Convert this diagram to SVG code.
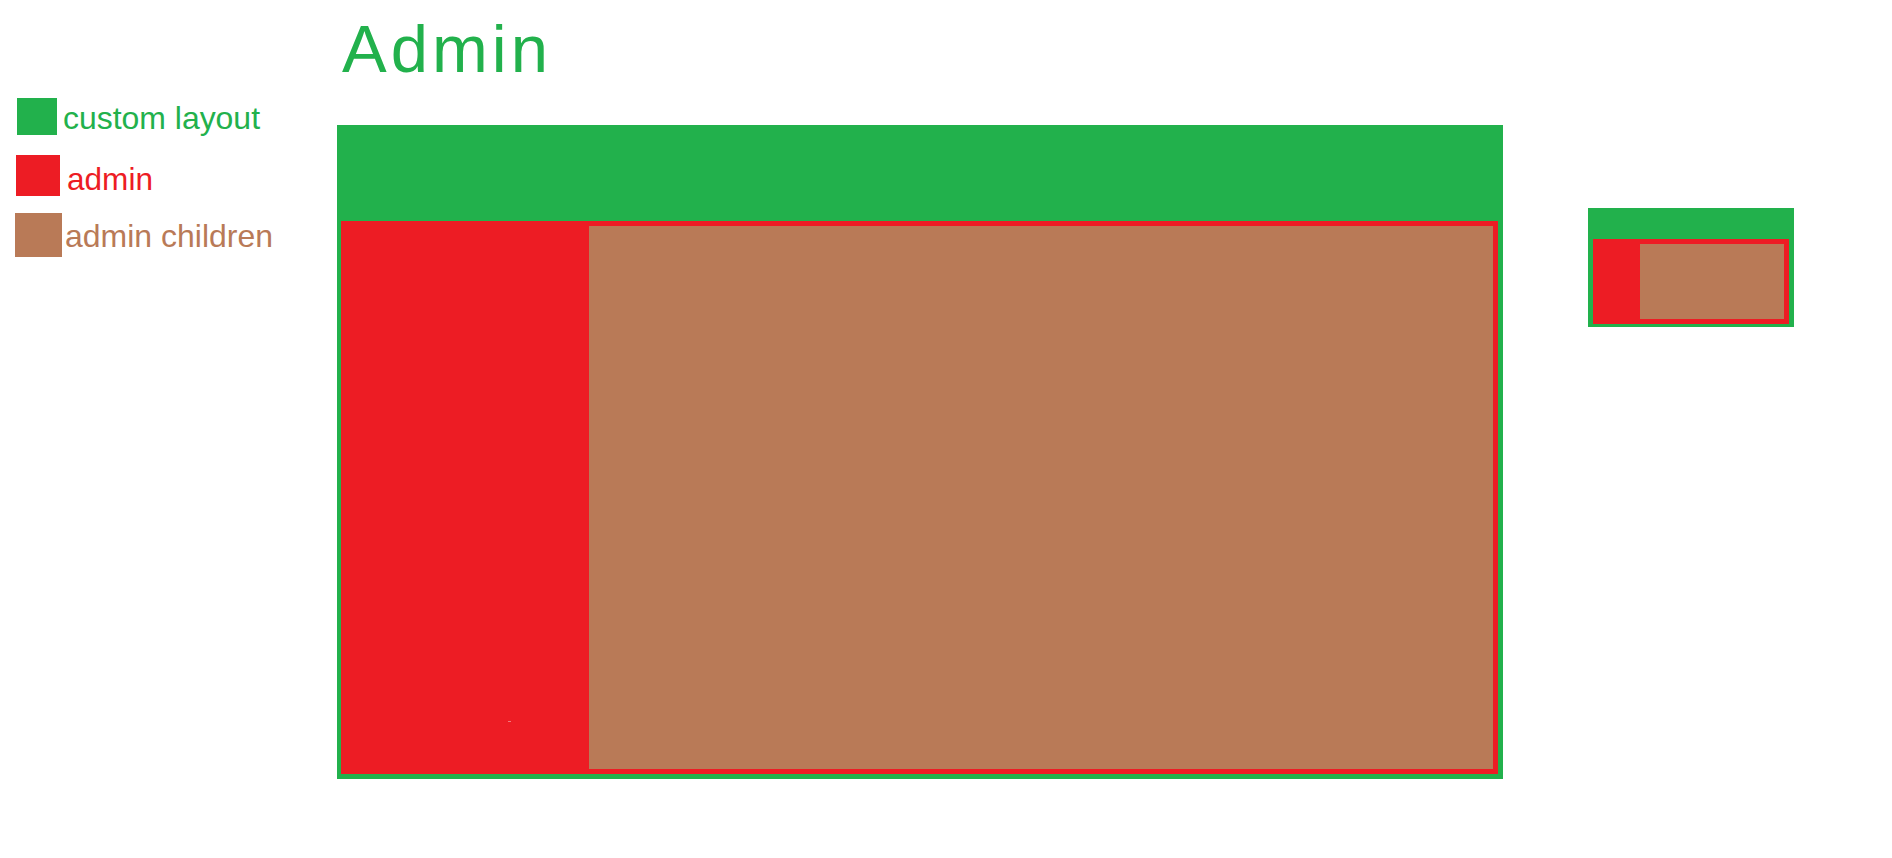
<svg xmlns="http://www.w3.org/2000/svg" width="1892" height="858" viewBox="0 0 1892 858">
  <style>
    .green { fill: #22B14C; }
    .red { fill: #ED1C24; }
    .brown { fill: #B97A57; }
    .legend { font-family: "Liberation Sans", Arial, sans-serif; font-size: 32px; }
  </style>
  <rect width="1892" height="858" fill="#FFFFFF"/>

  <g id="title">
    <text x="342" y="72" textLength="206" lengthAdjust="spacing" font-family="Liberation Sans, Arial, sans-serif" font-size="67" class="green">Admin</text>
  </g>

  <g id="legend">
    <g id="legend-custom-layout">
      <rect x="17" y="98" width="40" height="37" class="green"/>
      <text x="63" y="129" textLength="197" lengthAdjust="spacingAndGlyphs" class="legend green">custom layout</text>
    </g>
    <g id="legend-admin">
      <rect x="16" y="155" width="44" height="41" class="red"/>
      <text x="67" y="190" textLength="86" lengthAdjust="spacingAndGlyphs" class="legend red">admin</text>
    </g>
    <g id="legend-admin-children">
      <rect x="15" y="213" width="47" height="44" class="brown"/>
      <text x="65" y="247" textLength="208" lengthAdjust="spacingAndGlyphs" class="legend brown">admin children</text>
    </g>
  </g>

  <g id="main-layout">
    <rect id="main-custom-layout" x="337" y="125" width="1166" height="654" class="green"/>
    <rect id="main-admin" x="341" y="221" width="1157" height="553" class="red"/>
    <rect id="main-admin-children" x="589" y="226" width="904" height="543" class="brown"/>
    <rect x="508" y="721" width="3" height="1" fill="#F4787C"/>
  </g>

  <g id="mini-layout">
    <rect id="mini-custom-layout" x="1588" y="208" width="206" height="119" class="green"/>
    <rect id="mini-admin" x="1593" y="239" width="196" height="85" class="red"/>
    <rect id="mini-admin-children" x="1640" y="244" width="144" height="75" class="brown"/>
  </g>

  <g id="connectors"/>
</svg>
